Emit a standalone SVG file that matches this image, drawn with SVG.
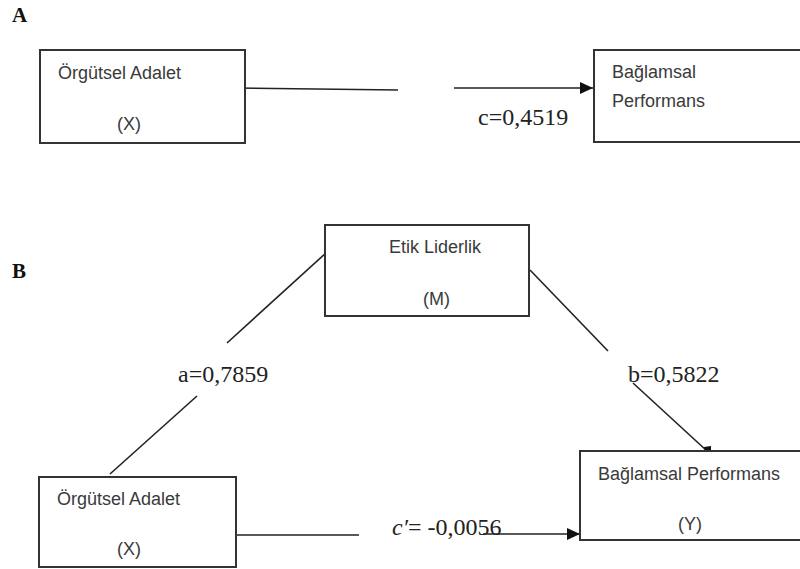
<svg xmlns="http://www.w3.org/2000/svg" width="800" height="569" viewBox="0 0 800 569">
<style>
.box{fill:#fff;stroke:#333;stroke-width:2}
.nt{font-family:"Liberation Sans",Arial,sans-serif;font-size:18px;fill:#3a3a3a}
.lbl{font-family:"Liberation Serif","Times New Roman",serif;font-size:24px;fill:#222}
.sec{font-family:"Liberation Serif","Times New Roman",serif;font-size:21px;font-weight:bold;fill:#111}
.ln{stroke:#222;stroke-width:1.6;fill:none}
</style>
<defs>
<marker id="ah" markerWidth="14" markerHeight="12" refX="13" refY="6" orient="auto" markerUnits="userSpaceOnUse">
<polygon points="0,0 13,6 0,12" fill="#111"/>
</marker>
</defs>
<rect width="800" height="569" fill="#fff"/>
<text class="sec" x="12" y="22">A</text>
<text class="sec" x="12" y="278">B</text>

<g id="connectors">
<line class="ln" x1="235" y1="88" x2="398" y2="90"/>
<line class="ln" x1="454" y1="88" x2="593" y2="88" marker-end="url(#ah)"/>
<line class="ln" x1="327" y1="252" x2="227" y2="343"/>
<line class="ln" x1="197" y1="396" x2="110" y2="474"/>
<line class="ln" x1="530" y1="270" x2="608" y2="351"/>
<line class="ln" x1="633" y1="383" x2="707" y2="451"/>
<polygon points="704,447 711,446 711,452 705,452" fill="#111"/>
<line class="ln" x1="236" y1="535" x2="359" y2="535"/>
<line class="ln" x1="483" y1="534" x2="580" y2="534" marker-end="url(#ah)"/>
</g>

<g id="nodeA_X">
<rect class="box" x="40" y="50" width="205" height="93"/>
<text class="nt" x="58" y="79">Örgütsel Adalet</text>
<text class="nt" x="117" y="130">(X)</text>
</g>
<g id="nodeA_Y">
<rect class="box" x="594" y="50" width="220" height="92"/>
<text class="nt" x="612" y="78">Bağlamsal</text>
<text class="nt" x="612" y="107">Performans</text>
</g>
<text class="lbl" x="478" y="125">c=0,4519</text>

<g id="nodeB_M">
<rect class="box" x="325" y="225" width="204" height="91"/>
<text class="nt" x="389" y="253">Etik Liderlik</text>
<text class="nt" x="423" y="305">(M)</text>
</g>
<g id="nodeB_X">
<rect class="box" x="39" y="477" width="197" height="90"/>
<text class="nt" x="57" y="505">Örgütsel Adalet</text>
<text class="nt" x="117" y="555">(X)</text>
</g>
<g id="nodeB_Y">
<rect class="box" x="580" y="451" width="234" height="89"/>
<text class="nt" x="598" y="480">Bağlamsal Performans</text>
<text class="nt" x="678" y="530">(Y)</text>
</g>

<text class="lbl" x="178" y="382">a=0,7859</text>
<text class="lbl" x="628" y="382">b=0,5822</text>
<text class="lbl" x="392" y="535"><tspan font-style="italic">c′</tspan>= -0,0056</text>
</svg>
